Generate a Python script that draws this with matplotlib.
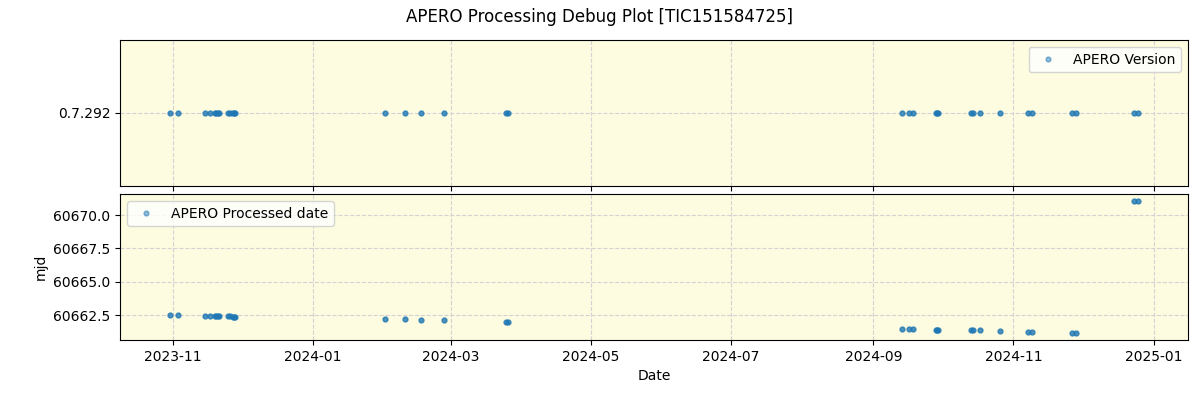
import pandas as pd
import matplotlib
matplotlib.use("Agg")
import matplotlib.pyplot as plt
import matplotlib.dates as mdates

obs_dates = [
    "2023-10-30 14:00", "2023-11-03 08:00", "2023-11-14 22:00", "2023-11-17 05:00",
    "2023-11-19 10:00", "2023-11-20 00:00", "2023-11-20 14:00", "2023-11-21 05:00",
    "2023-11-24 22:00", "2023-11-26 02:00", "2023-11-27 00:00", "2023-11-27 14:00",
    "2023-11-28 03:00",
    "2024-02-01 10:00", "2024-02-10 02:00", "2024-02-17 02:00", "2024-02-27 02:00",
    "2024-03-25 00:00", "2024-03-26 02:00",
    "2024-09-13 12:00", "2024-09-16 14:00", "2024-09-18 02:00", "2024-09-28 05:00",
    "2024-09-28 19:00", "2024-09-29 02:00", "2024-10-13 14:00", "2024-10-14 05:00",
    "2024-10-17 07:00", "2024-10-26 00:00", "2024-11-07 05:00", "2024-11-09 05:00",
    "2024-11-26 10:00", "2024-11-28 02:00", "2024-12-23 10:00", "2024-12-25 02:00",
]
versions = ["0.7.292"] * len(obs_dates)
processed_mjd = [
    60662.50, 60662.50, 60662.42, 60662.42,
    60662.42, 60662.42, 60662.42, 60662.42,
    60662.40, 60662.40, 60662.35, 60662.33,
    60662.33,
    60662.18, 60662.18, 60662.12, 60662.12,
    60661.97, 60661.97,
    60661.46, 60661.46, 60661.46, 60661.40,
    60661.40, 60661.40, 60661.40, 60661.40,
    60661.40, 60661.30, 60661.22, 60661.22,
    60661.13, 60661.13, 60671.08, 60671.05,
]

dates = pd.to_datetime(obs_dates)

fig, (ax1, ax2) = plt.subplots(2, 1, figsize=(12, 4), dpi=100, sharex=True)
fig.subplots_adjust(left=0.1, right=0.99, top=0.9, bottom=0.15, hspace=0.055)
fig.suptitle("APERO Processing Debug Plot [TIC151584725]", fontsize=12, y=0.98)

for ax in (ax1, ax2):
    ax.set_facecolor("#fdfbe0")
    ax.grid(True, linestyle="--", color="lightgray", linewidth=0.8)
    ax.set_axisbelow(True)

ax1.plot(dates, versions, "o", ms=3.5, alpha=0.8, color="C0", label="APERO Version")
leg1 = ax1.legend(loc="upper right")
leg1.legend_handles[0].set_alpha(0.5)

ax2.plot(dates, processed_mjd, "o", ms=3.5, alpha=0.8, color="C0", label="APERO Processed date")
leg2 = ax2.legend(loc="upper left")
leg2.legend_handles[0].set_alpha(0.5)
ax2.set_ylabel("mjd")
ax2.set_xlabel("Date")
ax2.yaxis.set_major_formatter(matplotlib.ticker.FormatStrFormatter("%.1f"))

ax2.set_xlim(pd.Timestamp("2023-10-09"), pd.Timestamp("2025-01-16"))
ax2.xaxis.set_major_locator(mdates.MonthLocator(bymonth=[1, 3, 5, 7, 9, 11]))
ax2.xaxis.set_major_formatter(mdates.DateFormatter("%Y-%m"))

fig.savefig("out.png")
